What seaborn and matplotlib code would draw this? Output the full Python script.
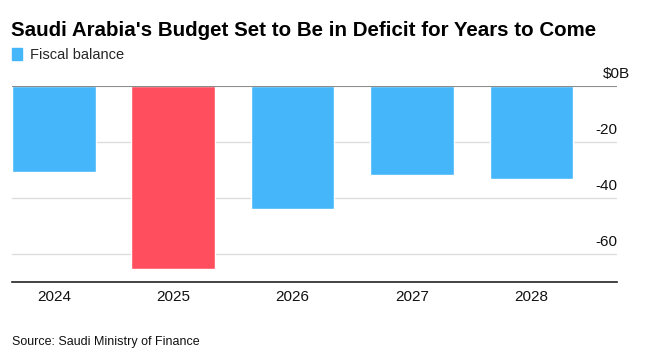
import matplotlib
matplotlib.use("Agg")
import matplotlib.pyplot as plt
import matplotlib.transforms as mtransforms
from matplotlib.patches import Patch
import seaborn as sns
import pandas as pd

# dados (bilhões de dólares)
years = ["2024", "2025", "2026", "2027", "2028"]
balance = [-30.8, -65.1, -43.9, -31.8, -33.1]
bar_colors = ["#45b6fa", "#ff4f5e", "#45b6fa", "#45b6fa", "#45b6fa"]
y_ticks = [0, -20, -40, -60]
y_tick_labels = ["$0B", "-20", "-40", "-60"]

title = "Saudi Arabia's Budget Set to Be in Deficit for Years to Come"
legend_label = "Fiscal balance"
source = "Source: Saudi Ministry of Finance"

sns.set_theme(style="white")
plt.rcParams["font.family"] = ["Liberation Sans", "DejaVu Sans"]

df = pd.DataFrame({"year": years, "balance": balance})

fig = plt.figure(figsize=(6.47, 3.57), dpi=100)
ax = fig.add_axes([12 / 647, 1 - 281.7 / 357, 605 / 647, (281.7 - 85.7) / 357])

sns.barplot(data=df, x="year", y="balance", hue="year", palette=bar_colors,
            width=0.7, legend=False, saturation=1, ax=ax, zorder=3)

ax.set_xlim(-0.35, 4.716)
ax.set_ylim(-69.7, 0)

# grade horizontal
for v in y_ticks[1:]:
    ax.axhline(v, color="#dddddd", lw=1, zorder=1)
ax.axhline(0, color="#8c8c8c", lw=1.5, zorder=4)

for s in ["top", "left", "right"]:
    ax.spines[s].set_visible(False)
ax.spines["bottom"].set_color("#222222")
ax.spines["bottom"].set_linewidth(1.2)
ax.spines["bottom"].set_zorder(5)

ax.set_xlabel("")
ax.set_ylabel("")
ax.tick_params(axis="x", length=0, pad=6, labelsize=11, labelcolor="#111111")

ax.yaxis.tick_right()
ax.set_yticks(y_ticks)
ax.set_yticklabels(y_tick_labels)
ax.tick_params(axis="y", length=0, pad=0, labelsize=11, labelcolor="#111111")
offset = mtransforms.ScaledTranslation(0, 13.5 / 100, fig.dpi_scale_trans)
for lab in ax.get_yticklabels():
    lab.set_horizontalalignment("right")
    lab.set_transform(lab.get_transform() + offset)
    if lab.get_text() == "$0B":
        lab.set_transform(lab.get_transform()
                          + mtransforms.ScaledTranslation(13 / 100, 0, fig.dpi_scale_trans))

fig.text(11 / 647, 1 - 35.5 / 357, title, fontsize=14.75, fontweight="bold",
         color="#000000", va="baseline")

fig.legend(handles=[Patch(color=bar_colors[0], label=legend_label)],
           loc="center left", bbox_to_anchor=(12 / 647, 1 - 55 / 357),
           frameon=False, fontsize=10.5, handlelength=0.7, handleheight=0.9,
           handletextpad=0.5, borderpad=0, borderaxespad=0)

fig.text(12 / 647, 1 - 345 / 357, source, fontsize=9, color="#111111",
         va="baseline")

fig.savefig("out.png", dpi=100)
